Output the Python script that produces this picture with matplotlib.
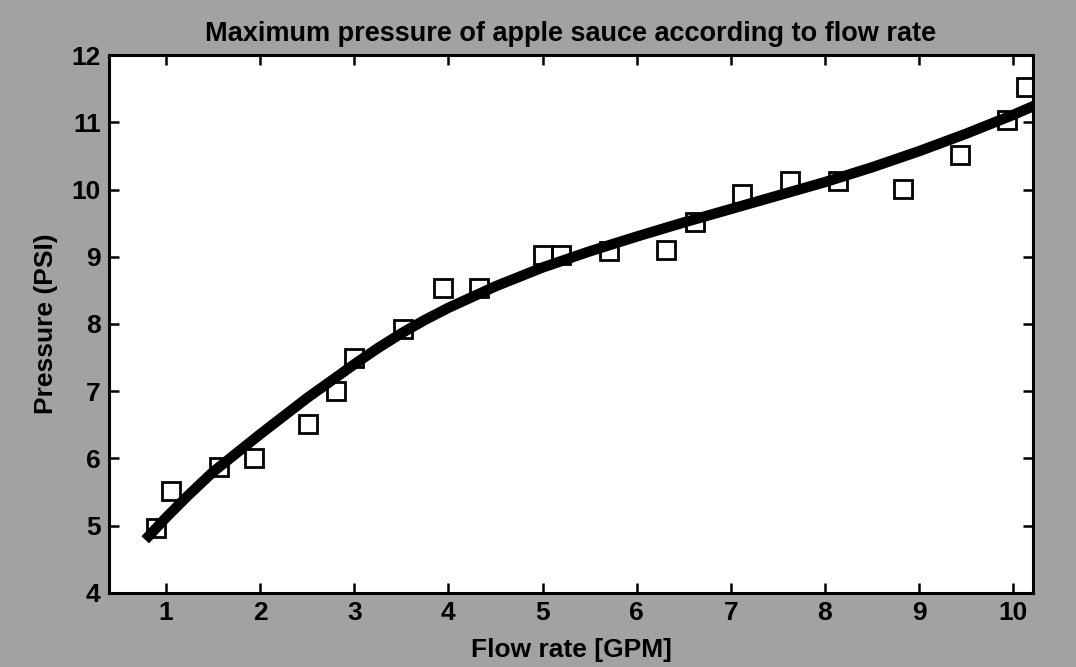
import matplotlib
matplotlib.use("Agg")
import matplotlib.pyplot as plt
from matplotlib import font_manager

# Measured data (flow rate GPM, pressure PSI)
flow = [0.89, 1.05, 1.56, 1.94, 2.51, 2.81, 3.0, 3.52, 3.94, 4.33, 5.0, 5.2,
        5.71, 6.31, 6.62, 7.12, 7.63, 8.14, 8.83, 9.43, 9.93, 10.14]
pressure = [4.97, 5.52, 5.88, 6.0, 6.51, 7.0, 7.5, 7.92, 8.54, 8.54, 9.02, 9.02,
            9.08, 9.1, 9.52, 9.94, 10.13, 10.13, 10.01, 10.52, 11.03, 11.52]

# Fitted curve
fit_x = [0.78, 1.0, 1.25, 1.5, 1.75, 2.0, 2.25, 2.5, 2.75, 3.0, 3.25, 3.5,
         3.75, 4.0, 4.5, 5.0, 5.5, 6.0, 6.5, 7.0, 7.5, 8.0, 8.5, 9.0, 9.5,
         10.0, 10.23]
fit_y = [4.79, 5.12, 5.47, 5.80, 6.08, 6.36, 6.63, 6.90, 7.15, 7.40, 7.64, 7.86,
         8.06, 8.24, 8.56, 8.84, 9.08, 9.30, 9.51, 9.71, 9.91, 10.11, 10.33,
         10.57, 10.83, 11.11, 11.25]

x_ticks = [1, 2, 3, 4, 5, 6, 7, 8, 9, 10]
y_ticks = [4, 5, 6, 7, 8, 9, 10, 11, 12]

title = "Maximum pressure of apple sauce according to flow rate"
xlabel = "Flow rate [GPM]"
ylabel = "Pressure (PSI)"

names = {f.name for f in font_manager.fontManager.ttflist}
fam = [f for f in ["Liberation Sans Narrow", "Liberation Sans", "DejaVu Sans"] if f in names]
plt.rcParams['font.family'] = fam

bg = "#a2a2a2"
fig = plt.figure(figsize=(10.76, 6.67), dpi=100, facecolor=bg)
ax = fig.add_axes([0.1013, 0.111, 0.8587, 0.8065])
ax.set_facecolor("white")

ax.plot(fit_x, fit_y, color="black", lw=7.5, solid_capstyle="butt",
        solid_joinstyle="round", zorder=2)
ax.plot(flow, pressure, linestyle="none", marker="s", markersize=12.5,
        markerfacecolor="none", markeredgecolor="black", markeredgewidth=2.0, zorder=3)

ax.set_xlim(0.395, 10.21)
ax.set_ylim(4, 12)
ax.set_xticks(x_ticks)
ax.set_yticks(y_ticks)
ax.tick_params(direction="in", length=7, width=1.8, top=True, right=True,
               labelsize=19, pad=6)
for lab in ax.get_xticklabels() + ax.get_yticklabels():
    lab.set_fontweight("bold")
for s in ax.spines.values():
    s.set_linewidth(2.2)

ax.set_title(title, fontsize=19.5, fontweight="bold", pad=10)
ax.set_xlabel(xlabel, fontsize=19, fontweight="bold", labelpad=9)
ax.set_ylabel(ylabel, fontsize=19, fontweight="bold", labelpad=10)

fig.savefig("out.png", dpi=100, facecolor=bg)
